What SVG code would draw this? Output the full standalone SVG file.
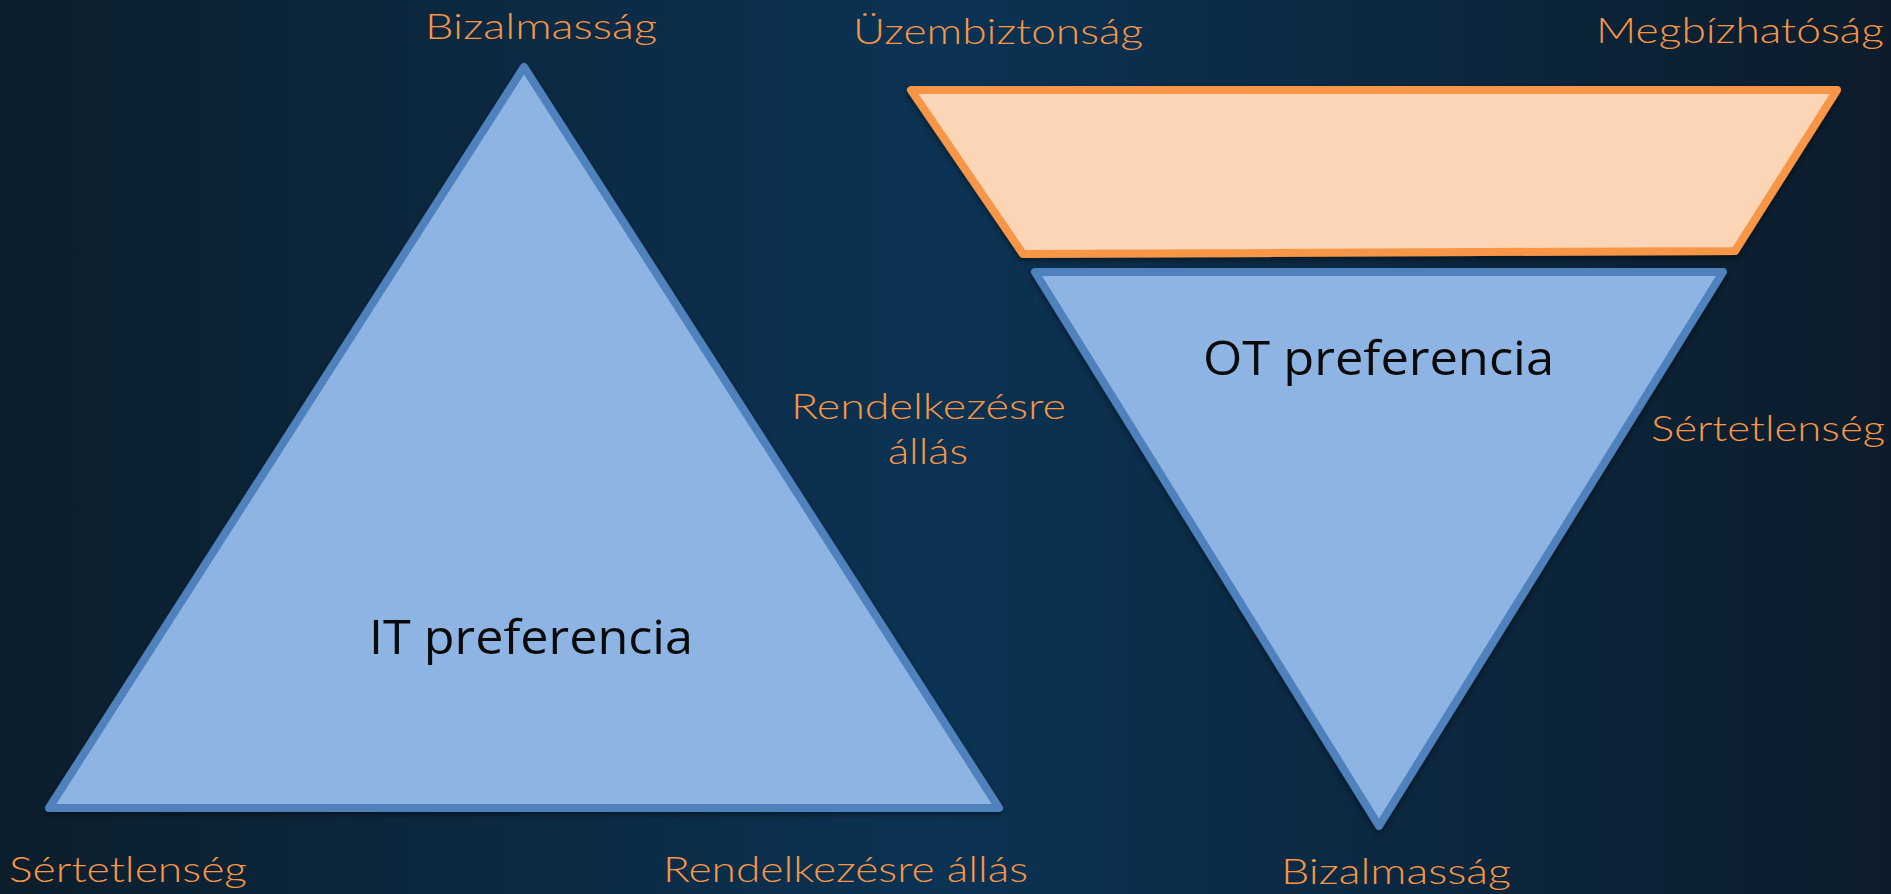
<svg xmlns="http://www.w3.org/2000/svg" width="1891" height="894" viewBox="0 0 1891 894">
  <defs>
    <linearGradient id="bg" x1="0" y1="0" x2="1" y2="0">
      <stop offset="0" stop-color="#0c1e2c"/>
      <stop offset="0.5" stop-color="#0b3354"/>
      <stop offset="1" stop-color="#0c1c2b"/>
    </linearGradient>
    <filter id="sh" x="-5%" y="-5%" width="110%" height="115%">
      <feDropShadow dx="0" dy="3" stdDeviation="3" flood-color="#000" flood-opacity="0.45"/>
    </filter>
  </defs>
  <style>
    .blue { fill: #8EB4E3; stroke: #4F81BD; stroke-width: 8; stroke-linejoin: round; }
    .orange { fill: #FBD5B5; stroke: #F79646; stroke-width: 8; stroke-linejoin: round; }
    .lbl { fill: #F79646; font-family: Lato, "Open Sans", "Liberation Sans", sans-serif; font-size: 36px; font-weight: 300; }
    .main { fill: #0a0a0a; font-family: "Open Sans", "Noto Sans", "Liberation Sans", sans-serif; font-size: 48px; }
  </style>
  <rect width="1891" height="894" fill="url(#bg)"/>

  <g id="it-triangle">
    <polygon class="blue" filter="url(#sh)" points="524,67 999,808 49,808"/>
    <text class="main" x="369" y="654" textLength="324" lengthAdjust="spacingAndGlyphs">IT preferencia</text>
  </g>

  <g id="ot-trapezoid">
    <polygon class="orange" filter="url(#sh)" points="911,90 1837,90 1735,251 1023,254"/>
  </g>

  <g id="ot-triangle">
    <polygon class="blue" filter="url(#sh)" points="1035,272 1723,272 1379,826"/>
    <text class="main" x="1203" y="375" textLength="351" lengthAdjust="spacingAndGlyphs">OT preferencia</text>
  </g>

  <g id="labels">
    <text class="lbl" x="425" y="39" textLength="232" lengthAdjust="spacingAndGlyphs">Bizalmasság</text>
    <text class="lbl" x="853" y="44" textLength="290" lengthAdjust="spacingAndGlyphs">Üzembiztonság</text>
    <text class="lbl" x="1596" y="43" textLength="288" lengthAdjust="spacingAndGlyphs">Megbízhatóság</text>
    <text class="lbl" x="791" y="419" textLength="275" lengthAdjust="spacingAndGlyphs">Rendelkezésre</text>
    <text class="lbl" x="888" y="464" textLength="80" lengthAdjust="spacingAndGlyphs">állás</text>
    <text class="lbl" x="1651" y="441" textLength="234" lengthAdjust="spacingAndGlyphs">Sértetlenség</text>
    <text class="lbl" x="9" y="882" textLength="238" lengthAdjust="spacingAndGlyphs">Sértetlenség</text>
    <text class="lbl" x="663" y="882" textLength="365" lengthAdjust="spacingAndGlyphs">Rendelkezésre állás</text>
    <text class="lbl" x="1281" y="884" textLength="230" lengthAdjust="spacingAndGlyphs">Bizalmasság</text>
  </g>
</svg>
